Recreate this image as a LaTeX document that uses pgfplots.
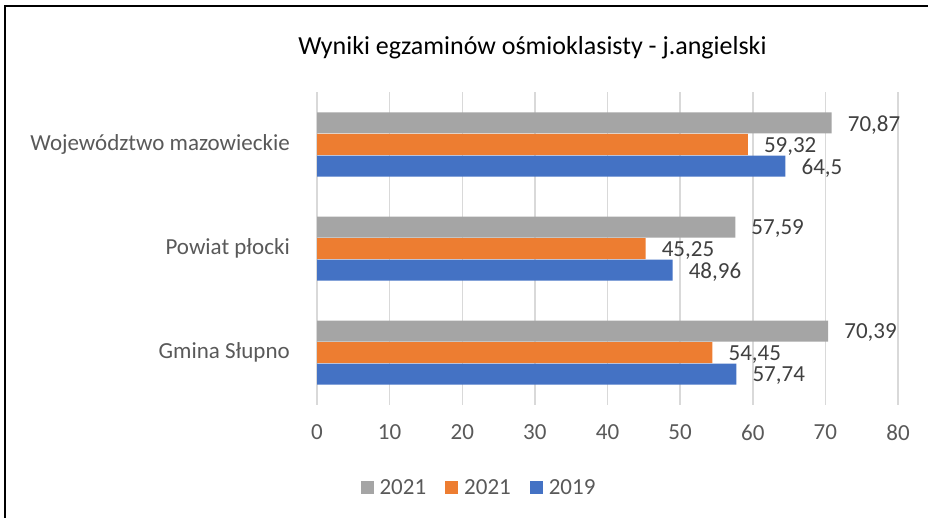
\documentclass[border=0pt]{standalone}
\usepackage{fontspec}
\setmainfont{Carlito}
\usepackage{pgfplots}
\pgfplotsset{compat=1.18}
\definecolor{cgray}{HTML}{A5A5A5}
\definecolor{corange}{HTML}{ED7D31}
\definecolor{cblue}{HTML}{4472C4}
\definecolor{ctext}{HTML}{595959}
\definecolor{cval}{HTML}{404040}
\definecolor{cgrid}{HTML}{D9D9D9}
\newcommand\fs{\fontsize{23}{27}\selectfont}
\begin{document}
\begin{tikzpicture}
\path[use as bounding box] (0pt,0pt) rectangle (928pt,517pt);
\draw[line width=2.5pt] (5pt,-2pt) -- (5pt,511pt) -- (930pt,511pt);
\node[font=\fontsize{26}{30}\selectfont, text=black] at (532.5pt,469pt) {Wyniki egzaminów ośmioklasisty - j.angielski};
\begin{axis}[
 at={(317pt,112.5pt)}, anchor=south west, scale only axis,
 width=581pt, height=312pt,
 xbar, bar width=21pt,
 xmin=0, xmax=80, ymin=-0.5, ymax=2.5,
 xtick={0,10,...,80}, ytick={0,1,2},
 yticklabels={Gmina Słupno, Powiat płocki, Województwo mazowieckie},
 axis line style={draw=none}, major tick length=0pt,
 xmajorgrids, major grid style={draw=cgrid, line width=1.5pt},
 tick label style={font=\fs, text=ctext},
 xticklabel style={anchor=north, inner sep=0pt, yshift=-20pt},
 yticklabel style={anchor=east, inner sep=0pt, xshift=-27pt},
 /pgf/number format/assume math mode=true,
 /pgf/number format/use comma,
 nodes near coords, point meta=x,
 every node near coord/.append style={font=\fs, text=cval, anchor=west, inner sep=0pt, xshift=16pt, yshift=-2pt},
 legend columns=3,
 legend style={draw=none, fill=none, at={(axis description cs:0.2771,-0.2676)}, anchor=center, font=\fs, text=ctext,
   /tikz/every even column/.append style={column sep=19pt},
   /tikz/every odd column/.append style={column sep=6pt},
   nodes={inner sep=0pt}},
 legend image code/.code={\fill[#1] (0pt,-6.5pt) rectangle (13pt,6.5pt);},
]
\addplot[fill=cgray, draw=none, bar shift=21.5pt] coordinates {(70.39,0) (57.59,1) (70.87,2)};
\addplot[fill=corange, draw=none, bar shift=0pt] coordinates {(54.45,0) (45.25,1) (59.32,2)};
\addplot[fill=cblue, draw=none, bar shift=-21.5pt] coordinates {(57.74,0) (48.96,1) (64.5,2)};
\legend{2021,2021,2019}
\end{axis}
\end{tikzpicture}
\end{document}
